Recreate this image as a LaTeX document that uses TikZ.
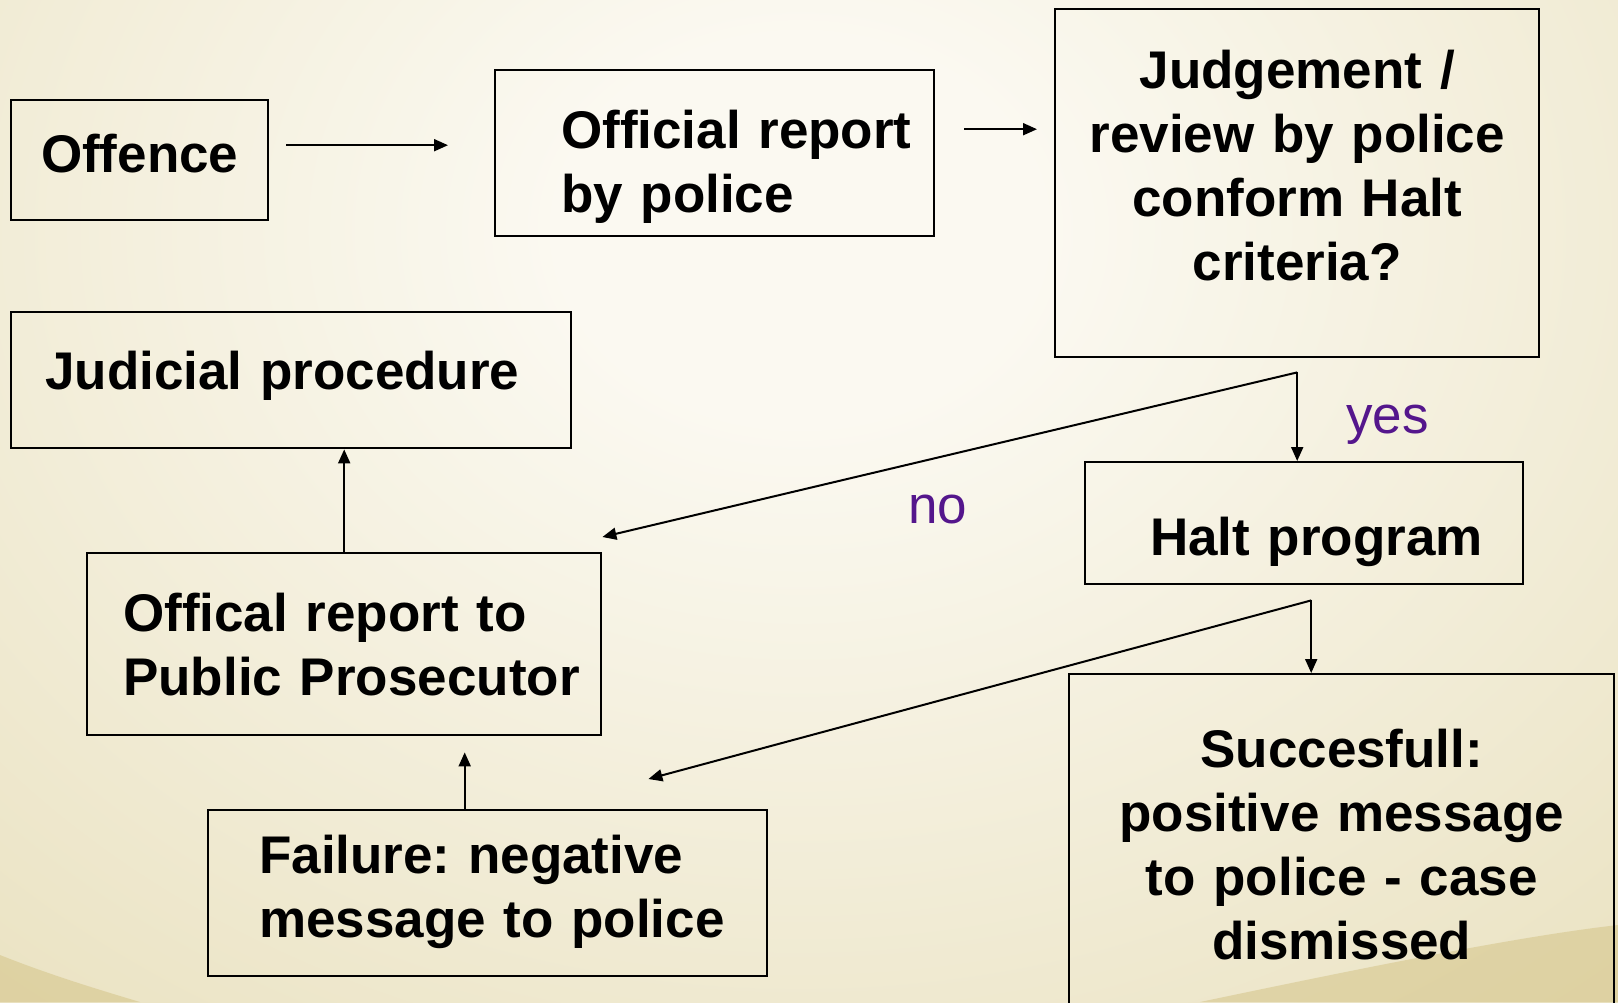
\documentclass[tikz,border=0pt]{standalone}
\usepackage{fontspec}
\setmainfont{Liberation Sans}
\usetikzlibrary{arrows.meta}

\definecolor{bgin}{RGB}{251,249,241}
\definecolor{bgout}{RGB}{225,214,168}
\definecolor{swoosh}{RGB}{210,193,130}
\definecolor{answercol}{RGB}{84,22,140}

\pgfdeclareradialshading{slidebg}{\pgfpoint{0bp}{0bp}}{color(0bp)=(bgin); color(6bp)=(bgin); color(46bp)=(bgout); color(50bp)=(bgout)}

\frenchspacing

\begin{document}
\begin{tikzpicture}[x=0.5pt, y=-0.5pt,
                    every node/.append style={font=\fontsize{26.5}{32}\selectfont\bfseries},
                    box/.style={rectangle, draw, line width=1.2pt, inner sep=0pt, anchor=north west},
                    leftbox/.style={box, align=left},
                    midbox/.style={box, align=center},
                    answer/.style={font=\fontsize{26.5}{32}\selectfont, text=answercol, inner sep=0pt, anchor=base west},
                    arr/.style={line width=1pt, -{Triangle[length=7pt, width=6pt]}}]
    \useasboundingbox (0,0) rectangle (1618,1002);
    \clip (0,0) rectangle (1618,1002);

    % Slide background
    \shade[shading=slidebg] (-200,-570) rectangle (1800,1030);
    \fill[swoosh, opacity=0.5] (1200,1002) .. controls (1400,960) and (1530,935) .. (1618,925) -- (1618,1002) -- cycle;
    \fill[swoosh, opacity=0.5] (0,955) .. controls (50,975) and (100,990) .. (140,1002) -- (0,1002) -- cycle;

    % Top row
    \node [midbox, minimum width=128.5pt, minimum height=60pt, text width=128.5pt,
           text height=36pt, text depth=24pt] (offence) at (10,99) {Offence};
    \node [leftbox, minimum width=219.5pt, minimum height=83pt, text width=153.5pt,
           text height=39pt, text depth=44pt] (report) at (494,69) {\mbox{Official report}\\by police};
    \node [midbox, minimum width=242pt, minimum height=174pt, text width=234pt,
           text height=39.5pt, text depth=134.5pt] (judge) at (1054,8) {Judgement /\\review by police\\conform Halt\\criteria?};

    % Left column
    \node [leftbox, minimum width=280pt, minimum height=68pt, text width=246pt,
           text height=38.5pt, text depth=29.5pt] (judicial) at (10,311) {Judicial procedure};
    \node [leftbox, minimum width=257pt, minimum height=91pt, text width=221pt,
           text height=39pt, text depth=52pt] (offical) at (86,552) {Offical report to\\\mbox{Public Prosecutor}};
    \node [leftbox, minimum width=279.5pt, minimum height=83pt, text width=228.5pt,
           text height=31.5pt, text depth=51.5pt] (failure) at (207,809) {Failure: negative\\\mbox{message to police}};

    % Right column
    \node [leftbox, minimum width=219pt, minimum height=61pt, text width=154pt,
           text height=46.5pt, text depth=14.5pt] (halt) at (1084,461) {\mbox{Halt program}};
    \node [midbox, minimum width=272.5pt, minimum height=183.5pt, text width=272.5pt,
           text height=46.5pt, text depth=137pt] (success) at (1068,673) {Succesfull:\\positive message\\to police - case\\dismissed};

    % Answers
    \node [answer] (yes) at (1346,433) {yes};
    \node [answer] (no) at (908,523) {no};

    % Draw the arrows
    \draw [arr] ([shift={(17,-15)}]offence.east)  -- ([shift={(-46,-8)}]report.west);
    \draw [arr] ([shift={(29,-24)}]report.east)   -- ([shift={(-17,-54)}]judge.west);
    \coordinate (judge fork) at ([shift={(0,14)}]judge.south);
    \draw [arr] (judge fork) -- (judge fork |- halt.north);
    \draw [arr] (judge fork) -- ([shift={(0,-15)}]offical.north east);
    \coordinate (halt fork) at ([shift={(7,15)}]halt.south);
    \draw [arr] (halt fork)  -- (halt fork |- success.north);
    \draw [arr] (halt fork)  -- ([shift={(-120,-30)}]failure.north east);
    \draw [arr] (offical.north) -- (offical.north |- judicial.south);
    \draw [arr] ([shift={(-23,0)}]failure.north) -- ([shift={(120.5,16)}]offical.south);
\end{tikzpicture}
\end{document}
